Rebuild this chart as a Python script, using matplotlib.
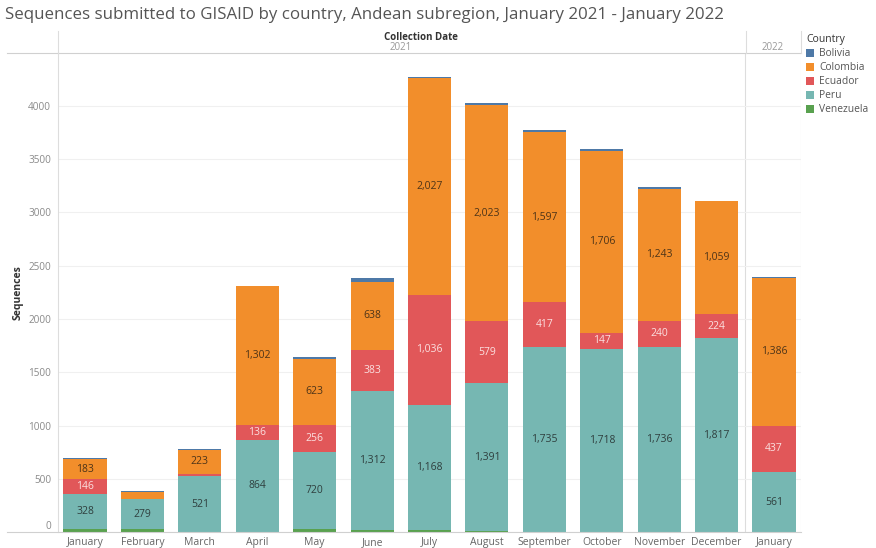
import matplotlib
matplotlib.use("Agg")
import matplotlib.pyplot as plt
from matplotlib.patches import Patch
import numpy as np

plt.rcParams['font.family'] = ['Open Sans', 'DejaVu Sans']

months = ["January", "February", "March", "April", "May", "June", "July",
          "August", "September", "October", "November", "December", "January"]
years = ["2021"] * 12 + ["2022"]
countries = ["Venezuela", "Peru", "Ecuador", "Colombia", "Bolivia"]
venezuela = [28, 30, 5, 5, 30, 18, 25, 10, 5, 5, 5, 4, 3]
peru = [328, 279, 521, 864, 720, 1312, 1168, 1391, 1735, 1718, 1736, 1817, 561]
ecuador = [146, 5, 25, 136, 256, 383, 1036, 579, 417, 147, 240, 224, 437]
colombia = [183, 62, 223, 1302, 623, 638, 2027, 2023, 1597, 1706, 1243, 1059, 1386]
bolivia = [15, 10, 5, 8, 20, 37, 18, 23, 18, 21, 14, 3, 7]
y_ticks = [0, 500, 1000, 1500, 2000, 2500, 3000, 3500, 4000]

colors = {"Bolivia": "#4e79a7", "Colombia": "#f28e2b", "Ecuador": "#e15759",
          "Peru": "#76b7b2", "Venezuela": "#59a14f"}
series = {"Venezuela": venezuela, "Peru": peru, "Ecuador": ecuador,
          "Colombia": colombia, "Bolivia": bolivia}
label_color = {"Peru": "#2f3f3e", "Ecuador": "#fbe0e0", "Colombia": "#4d3418"}
min_label = 100

W, H = 876, 548
fig = plt.figure(figsize=(W / 100, H / 100), dpi=100)
L, R, T, B = 58, 801, 53, 532.4
ax = fig.add_axes([L / W, 1 - B / H, (R - L) / W, (B - T) / H])

x = np.arange(len(months))
bottom = np.zeros(len(months))
for c in countries:
    vals = np.array(series[c], dtype=float)
    ax.bar(x, vals, bottom=bottom, width=0.75, color=colors[c], linewidth=0, zorder=2)
    if c in label_color:
        for xi, v, b in zip(x, vals, bottom):
            if v >= min_label:
                ax.text(xi, b + v / 2, f"{int(v):,}", ha="center", va="center",
                        fontsize=7.5, color=label_color[c], zorder=3)
    bottom += vals

ax.set_xlim(-0.47, len(months) - 0.53)
ax.set_ylim(0, 4495)
ax.set_yticks(y_ticks)
ax.set_yticklabels([str(v) for v in y_ticks], fontsize=7.2, color="#8a8a8a")
ax.get_yticklabels()[0].set_verticalalignment("bottom")
ax.set_xticks(x)
ax.set_xticklabels(months, fontsize=7.5, color="#666666")
ax.tick_params(axis="both", length=0, pad=3.5)
ax.tick_params(axis="y", pad=5)
ax.grid(axis="y", color="#f0f0f0", linewidth=0.8, zorder=0)
for s in ["top", "right", "bottom"]:
    ax.spines[s].set_visible(False)
ax.spines["left"].set_color("#dddddd")
ax.spines["left"].set_linewidth(0.8)
ax.axvline(11.5, color="#dddddd", linewidth=0.8, zorder=1)
ax.axvline(len(months) - 0.53, color="#dddddd", linewidth=0.8, zorder=1)
ax.set_ylabel("Sequences", fontsize=7.5, color="#333333", fontweight="bold", labelpad=3)

def fx(px):
    return px / W

def fy(py):
    return 1 - py / H

fig.add_artist(plt.Line2D([fx(7), fx(R)], [fy(T), fy(T)], color="#d0d0d0", linewidth=0.8))
fig.add_artist(plt.Line2D([fx(7), fx(R)], [fy(B), fy(B)], color="#d0d0d0", linewidth=0.8))
fig.add_artist(plt.Line2D([fx(L), fx(L)], [fy(31), fy(T)], color="#dddddd", linewidth=0.8))
fig.add_artist(plt.Line2D([fx(745.5), fx(745.5)], [fy(31), fy(T)], color="#dddddd", linewidth=0.8))
fig.add_artist(plt.Line2D([fx(R), fx(R)], [fy(31), fy(T)], color="#dddddd", linewidth=0.8))

fig.text(fx(5), fy(15), "Sequences submitted to GISAID by country, Andean subregion, January 2021 - January 2022",
         fontsize=12.2, color="#555555", ha="left", va="center")
fig.text(fx(421), fy(37), "Collection Date", fontsize=7, fontweight="bold", color="#333333",
         ha="center", va="center")
fig.text(fx(401), fy(47.5), years[0], fontsize=7, color="#999999", ha="center", va="center")
fig.text(fx(773), fy(47.5), years[-1], fontsize=7, color="#999999", ha="center", va="center")

legend_order = ["Bolivia", "Colombia", "Ecuador", "Peru", "Venezuela"]
handles = [Patch(facecolor=colors[c], edgecolor="none", label=c) for c in legend_order]
leg = fig.legend(handles=handles, title="Country", loc="upper left",
                 bbox_to_anchor=(fx(803), fy(31)), frameon=False, fontsize=7.4,
                 title_fontsize=7.5, handlelength=0.8, handleheight=0.8,
                 handletextpad=0.5, labelspacing=0.3, borderaxespad=0, borderpad=0.3)
leg._legend_box.align = "left"
leg.get_title().set_color("#333333")
for t in leg.get_texts():
    t.set_color("#555555")

fig.savefig("out.png", dpi=100, facecolor="white")
